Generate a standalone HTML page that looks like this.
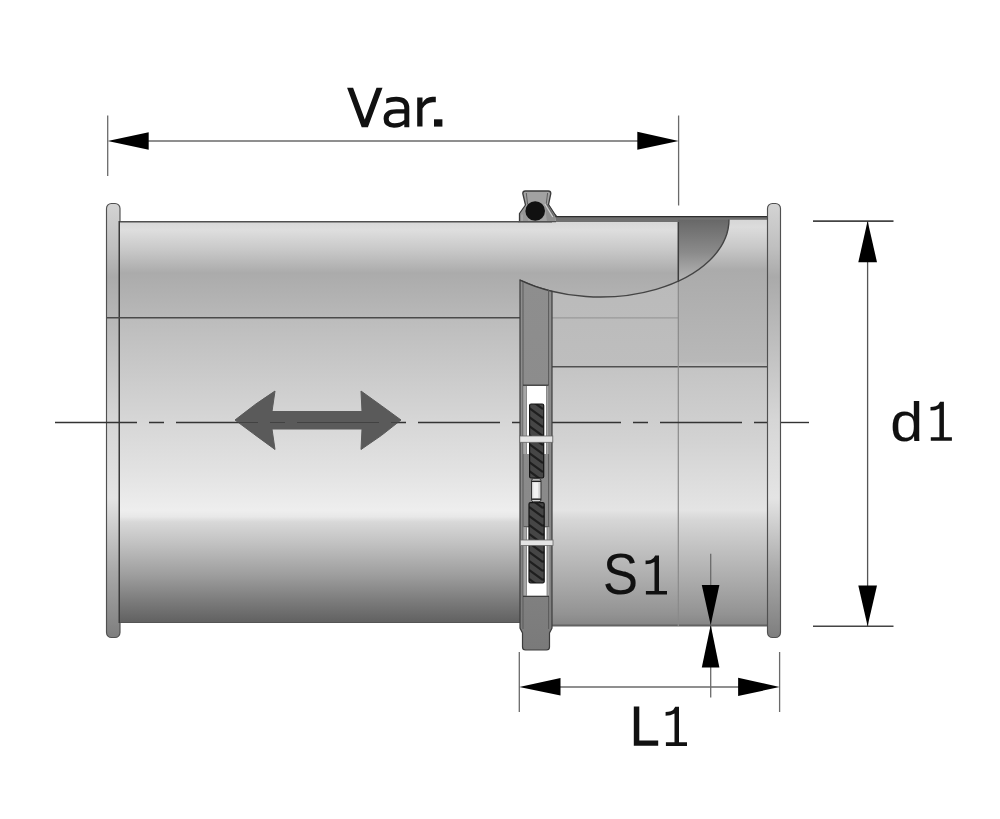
<!DOCTYPE html>
<html><head><meta charset="utf-8">
<style>
html,body{margin:0;padding:0;background:#fff;width:1000px;height:819px;overflow:hidden}
svg{display:block}
text{font-family:"Liberation Sans",sans-serif;fill:#111}
</style></head>
<body>
<svg width="1000" height="819" viewBox="0 0 1000 819">
<defs>
<linearGradient id="gPipe" gradientUnits="userSpaceOnUse" x1="0" y1="222" x2="0" y2="623">
<stop offset="0" stop-color="#d8d8d8"/>
<stop offset="0.02" stop-color="#dedede"/>
<stop offset="0.07" stop-color="#c8c8c8"/>
<stop offset="0.127" stop-color="#ababab"/>
<stop offset="0.195" stop-color="#b3b3b3"/>
<stop offset="0.237" stop-color="#b8b8b8"/>
<stop offset="0.242" stop-color="#bcbcbc"/>
<stop offset="0.494" stop-color="#d6d6d6"/>
<stop offset="0.62" stop-color="#e2e2e2"/>
<stop offset="0.72" stop-color="#eeeeee"/>
<stop offset="0.735" stop-color="#e8e8e8"/>
<stop offset="0.748" stop-color="#d8d8d8"/>
<stop offset="0.80" stop-color="#c2c2c2"/>
<stop offset="0.88" stop-color="#9e9e9e"/>
<stop offset="0.94" stop-color="#7e7e7e"/>
<stop offset="1" stop-color="#606060"/>
</linearGradient>
<linearGradient id="gSleeve" gradientUnits="userSpaceOnUse" x1="0" y1="219" x2="0" y2="626">
<stop offset="0" stop-color="#d6d6d6"/>
<stop offset="0.02" stop-color="#dcdcdc"/>
<stop offset="0.07" stop-color="#c8c8c8"/>
<stop offset="0.125" stop-color="#ababab"/>
<stop offset="0.35" stop-color="#b8b8b8"/>
<stop offset="0.363" stop-color="#c4c4c4"/>
<stop offset="0.54" stop-color="#d2d2d2"/>
<stop offset="0.715" stop-color="#e4e4e4"/>
<stop offset="0.74" stop-color="#d6d6d6"/>
<stop offset="0.80" stop-color="#c4c4c4"/>
<stop offset="0.90" stop-color="#a8a8a8"/>
<stop offset="0.97" stop-color="#939393"/>
<stop offset="1" stop-color="#858585"/>
</linearGradient>
<linearGradient id="gWedge" gradientUnits="userSpaceOnUse" x1="0" y1="219" x2="0" y2="285">
<stop offset="0" stop-color="#676767"/>
<stop offset="0.5" stop-color="#8a8a8a"/>
<stop offset="1" stop-color="#bdbdbd"/>
</linearGradient>
<linearGradient id="gInner" gradientUnits="userSpaceOnUse" x1="0" y1="280" x2="0" y2="367">
<stop offset="0" stop-color="#bababa"/>
<stop offset="1" stop-color="#bebebe"/>
</linearGradient>
<linearGradient id="gFlange" gradientUnits="userSpaceOnUse" x1="0" y1="203" x2="0" y2="637">
<stop offset="0" stop-color="#d4d4d4"/>
<stop offset="0.1" stop-color="#c0c0c0"/>
<stop offset="0.17" stop-color="#aaaaaa"/>
<stop offset="0.5" stop-color="#d6d6d6"/>
<stop offset="0.68" stop-color="#e4e4e4"/>
<stop offset="0.85" stop-color="#a8a8a8"/>
<stop offset="1" stop-color="#7e7e7e"/>
</linearGradient>
<linearGradient id="gBand" gradientUnits="userSpaceOnUse" x1="0" y1="280" x2="0" y2="650">
<stop offset="0" stop-color="#8e8e8e"/>
<stop offset="0.6" stop-color="#8a8a8a"/>
<stop offset="1" stop-color="#7a7a7a"/>
</linearGradient>
<clipPath id="cEll"><ellipse cx="600.2" cy="219.6" rx="128.8" ry="77.4"/></clipPath>
<pattern id="pThread" patternUnits="userSpaceOnUse" width="14" height="9" patternTransform="translate(529,404)">
<rect width="14" height="9" fill="#464646"/>
<path d="M0,-5 L14,5 M0,4 L14,14" stroke="#1e1e1e" stroke-width="2.2"/>
</pattern>
</defs>

<!-- left flange -->
<rect x="106.5" y="203.5" width="13.5" height="434" rx="5" ry="5" fill="url(#gFlange)" stroke="#505050" stroke-width="1.15"/>

<line x1="119.3" y1="221" x2="119.3" y2="623" stroke="#3a3a3a" stroke-width="1.6"/>
<!-- left pipe -->
<rect x="120" y="221.5" width="558" height="401" fill="url(#gPipe)"/>
<line x1="120" y1="221.7" x2="678" y2="221.7" stroke="#505050" stroke-width="1.5"/>
<line x1="120" y1="622.5" x2="520" y2="622.5" stroke="#555" stroke-width="1.2"/>

<!-- sleeve -->
<rect x="552" y="219" width="216" height="407" fill="url(#gSleeve)"/>
<rect x="552" y="222" width="126" height="145" fill="url(#gInner)"/>
<g clip-path="url(#cEll)">
<rect x="552" y="222" width="126" height="80" fill="url(#gPipe)"/>
<rect x="678" y="219" width="90" height="80" fill="url(#gWedge)"/>
</g>
<!-- sleeve top strip -->
<rect x="552" y="216" width="126" height="6" fill="#707070"/>
<rect x="678" y="216" width="90" height="3.8" fill="#707070"/>
<line x1="552" y1="216.6" x2="768" y2="216.6" stroke="#2e2e2e" stroke-width="1.3"/>
<line x1="552" y1="625.4" x2="768" y2="625.4" stroke="#626262" stroke-width="2"/>

<!-- lines -->
<line x1="107" y1="317.8" x2="520" y2="317.8" stroke="#4a4a4a" stroke-width="1.4"/>
<line x1="552" y1="317.8" x2="678" y2="317.8" stroke="#9a9a9a" stroke-width="1.3"/>
<line x1="552" y1="366.8" x2="767" y2="366.8" stroke="#505050" stroke-width="1.4"/>
<line x1="678.3" y1="222" x2="678.3" y2="282" stroke="#3c3c3c" stroke-width="1.5"/>
<line x1="678.3" y1="282" x2="678.3" y2="626" stroke="#8a8a8a" stroke-width="1.2"/>
<path d="M520,280.15 A128.8,77.4 0 0 0 729,219.6" fill="none" stroke="#444" stroke-width="1.4" transform=""/>

<!-- centerline -->
<line x1="55" y1="422.5" x2="767" y2="422.5" stroke="#333" stroke-width="1.4" stroke-dasharray="82 12 15 12"/>
<line x1="780" y1="422.5" x2="809" y2="422.5" stroke="#333" stroke-width="1.4"/>

<!-- band -->
<g id="band">
<path d="M520,280.15 A128.8,77.4 0 0 0 552,291.36 L552,628 L549.5,633 L549.5,647 Q549.5,650 546.5,650 L525.5,650 Q522.5,650 522.5,647 L522.5,633 L520,628 Z" fill="url(#gBand)" stroke="#3c3c3c" stroke-width="1.2"/>
<line x1="523" y1="282" x2="523" y2="629" stroke="#5a5a5a" stroke-width="1"/>
<line x1="548.6" y1="290" x2="548.6" y2="629" stroke="#5a5a5a" stroke-width="1"/>
<!-- upper window -->
<rect x="523.3" y="385" width="25.3" height="69" fill="#a6a6a6"/>
<rect x="526.5" y="386" width="20" height="68" fill="#ffffff"/>
<line x1="523" y1="385.2" x2="548.6" y2="385.2" stroke="#333" stroke-width="1.2"/>
<line x1="526.5" y1="386" x2="526.5" y2="454" stroke="#777" stroke-width="0.8"/>
<line x1="546.5" y1="386" x2="546.5" y2="454" stroke="#777" stroke-width="0.8"/>
<!-- lower window -->
<rect x="523.5" y="526.4" width="25.9" height="70" fill="#a6a6a6"/>
<rect x="526.5" y="527.5" width="20.5" height="68.5" fill="#ffffff"/>
<line x1="523.5" y1="526.6" x2="549.4" y2="526.6" stroke="#555" stroke-width="1"/>
<line x1="523" y1="596.3" x2="549" y2="596.3" stroke="#333" stroke-width="1.2"/>
<line x1="526.5" y1="527" x2="526.5" y2="596" stroke="#777" stroke-width="0.8"/>
<line x1="547" y1="527" x2="547" y2="596" stroke="#777" stroke-width="0.8"/>
<!-- rods -->
<rect x="529.6" y="404" width="14.1" height="74" rx="1.5" fill="url(#pThread)" stroke="#151515" stroke-width="1.2"/>
<rect x="529" y="502.6" width="15.2" height="80.4" rx="1.5" fill="url(#pThread)" stroke="#151515" stroke-width="1.2"/>
<!-- nut -->
<rect x="531.5" y="478.7" width="9.5" height="23.1" rx="2" fill="#d4d4d4" stroke="#333" stroke-width="1"/>
<rect x="533.3" y="482.5" width="5" height="15.5" fill="#f2f2f2"/>
<line x1="531.5" y1="481.3" x2="541" y2="481.3" stroke="#222" stroke-width="1.4"/>
<line x1="531.5" y1="499.2" x2="541" y2="499.2" stroke="#222" stroke-width="1.4"/>
<!-- pins -->
<rect x="519.8" y="436" width="33" height="6.3" fill="#e4e4e4" stroke="#666" stroke-width="0.8"/>
<rect x="520.3" y="540" width="32.7" height="5.5" fill="#e4e4e4" stroke="#666" stroke-width="0.8"/>
</g>

<!-- clamp housing -->
<path d="M519.5,221 L519.5,213.5 L525.5,205 L522.8,193.5 Q522.8,191 525.3,191 L548.3,191 Q550.8,191 550.8,193.5 L548.5,204.5 L555,214.5 L556,221 Z" fill="#a2a2a2"/>
<path d="M520.2,221.5 L520.2,214 L526,206.5 L528,221.5 Z" fill="#959595"/>
<path d="M544.5,203.5 L549,204.5 L555,214.5 L555,221.5 L547,221.5 Z" fill="#8e8e8e"/>
<path d="M519.5,221 L519.5,213.5 L525.5,205 L522.8,193.5 Q522.8,191 525.3,191 L548.3,191 Q550.8,191 550.8,193.5 L548.5,204.5 L555,214.5 L556.5,216.5" fill="none" stroke="#3a3a3a" stroke-width="1.3" stroke-linejoin="round"/>
<path d="M526.3,193 L527.6,204.5 M547.6,193 L546.3,203.5" fill="none" stroke="#555" stroke-width="0.9"/>
<line x1="544.8" y1="203.8" x2="552.8" y2="217" stroke="#d0d0d0" stroke-width="1.1"/>
<line x1="546.5" y1="203.6" x2="554" y2="216.2" stroke="#555" stroke-width="0.8"/>
<line x1="522" y1="214.5" x2="522" y2="221.5" stroke="#bbb" stroke-width="0.8"/>
<circle cx="535.2" cy="211" r="9.8" fill="#111"/>
<line x1="518" y1="221.7" x2="556" y2="221.7" stroke="#505050" stroke-width="1.3"/>
<!-- right flange -->
<rect x="767.5" y="203.5" width="13" height="434" rx="5" ry="5" fill="url(#gFlange)" stroke="#505050" stroke-width="1.15"/>

<!-- double arrow -->
<path d="M235,420 Q256,403 275,391 L272,411.5 L362,411.5 L361,391 Q382,406 401,420 Q382,436 361,449.5 L362,429 L272,429 L275,449.5 Q255,435 235,420 Z" fill="#5a5a5a" stroke="#5a5a5a" stroke-width="1" stroke-linejoin="round"/>
<line x1="235" y1="422.5" x2="401" y2="422.5" stroke="#333" stroke-width="1.2" stroke-dasharray="82 12 15 12" stroke-dashoffset="59" opacity="0.6"/>

<!-- Var. dimension -->
<g stroke="#6a6a6a" stroke-width="1.3">
<line x1="107.7" y1="115.5" x2="107.7" y2="176"/>
<line x1="678.6" y1="115.5" x2="678.6" y2="205.5"/>
<line x1="148" y1="141" x2="638" y2="141"/>
<line x1="867.6" y1="221" x2="867.6" y2="626" stroke="#555"/>
<line x1="813" y1="221.1" x2="893.5" y2="221.1" stroke="#444" stroke-width="1.6"/>
<line x1="813" y1="626.3" x2="893.5" y2="626.3" stroke="#444" stroke-width="1.6"/>
<line x1="710.7" y1="553.7" x2="710.7" y2="697.5"/>
<line x1="519.3" y1="652" x2="519.3" y2="712"/>
<line x1="779.6" y1="652" x2="779.6" y2="712"/>
<line x1="560" y1="687" x2="739" y2="687"/>
</g>
<g fill="#000">
<path d="M107.7,141 L148.7,132.2 L148.7,149.8 Z"/>
<path d="M678.6,141 L637.3,131.8 L637.3,149.8 Z"/>
<path d="M867.6,221 L858.3,262.2 L877,262.2 Z"/>
<path d="M867.6,626 L858.3,585.5 L877,585.5 Z"/>
<path d="M710.7,625 L701.8,585 L719.4,585 Z"/>
<path d="M710.7,625 L701.8,667.5 L719.4,667.5 Z"/>
<path d="M519.3,687 L560.5,678 L560.5,695.5 Z"/>
<path d="M779.6,687 L738.1,677.8 L738.1,696 Z"/>
</g>

<!-- texts -->
<path fill="#111" fill-rule="evenodd" d="M386.2,98.6 Q390.8,96.7 396.2,96.7 Q409.3,96.7 409.3,108.2 L409.3,127.2 L404.3,127.2 L404.3,124.2 Q400.3,127.7 394,127.7 Q383.6,127.7 383.6,118.8 Q383.6,109.3 396.5,109.3 L404.3,109.3 L404.3,107.8 Q404.3,101.5 396,101.5 Q391,101.5 386.2,103.6 Z M404.3,113.6 L396.8,113.6 Q388.7,113.6 388.7,118.8 Q388.7,123.2 394.6,123.2 Q400.4,123.2 404.3,119.9 Z"/>
<path fill="#111" d="M417.2,126.6 L417.2,97.6 L422.5,97.6 L422.5,102.8 Q425.6,96.7 432.5,96.7 L435.8,96.7 L435.8,102.2 L432.8,102.2 Q426.2,102.2 422.5,108.5 L422.5,126.6 Z"/>
<text transform="translate(890.24,440.84) scale(0.5911,0.5568)" font-size="100" stroke="#111" stroke-width="0.2">d</text>
<text transform="translate(602.88,594.42) scale(0.5246,0.5761)" font-size="100" stroke="#111" stroke-width="0.2">S</text>
<path fill="#111" d="M347.1,87.8 L353.1,87.8 L364.8,119.6 L376.5,87.8 L382.5,87.8 L367.9,127.2 L361.7,127.2 Z"/>
<rect x="434" y="119.3" width="8.4" height="7.3" fill="#111"/>
<path fill="#111" d="M633.8,706.4 L639.3,706.4 L639.3,740.6 L658.2,740.6 L658.2,745.8 L633.8,745.8 Z"/>
<path fill="#111" transform="translate(930.5,440.8)" d="M0.3,0 L21.4,0 L21.4,-3.6 L13.4,-3.6 L13.4,-39.1 L9.6,-39.1 Q8.2,-35.6 5.2,-34.6 Q2.6,-33.9 0,-33.9 L0,-30.2 Q5,-30.2 8.9,-32.4 L8.9,-3.6 L0.3,-3.6 Z"/>
<path fill="#111" transform="translate(645.6,594.5)" d="M0.3,0 L21.4,0 L21.4,-3.6 L13.4,-3.6 L13.4,-39.1 L9.6,-39.1 Q8.2,-35.6 5.2,-34.6 Q2.6,-33.9 0,-33.9 L0,-30.2 Q5,-30.2 8.9,-32.4 L8.9,-3.6 L0.3,-3.6 Z"/>
<path fill="#111" transform="translate(665.6,745.9)" d="M0.3,0 L21.4,0 L21.4,-3.6 L13.4,-3.6 L13.4,-39.1 L9.6,-39.1 Q8.2,-35.6 5.2,-34.6 Q2.6,-33.9 0,-33.9 L0,-30.2 Q5,-30.2 8.9,-32.4 L8.9,-3.6 L0.3,-3.6 Z"/>
</svg>
</body></html>
